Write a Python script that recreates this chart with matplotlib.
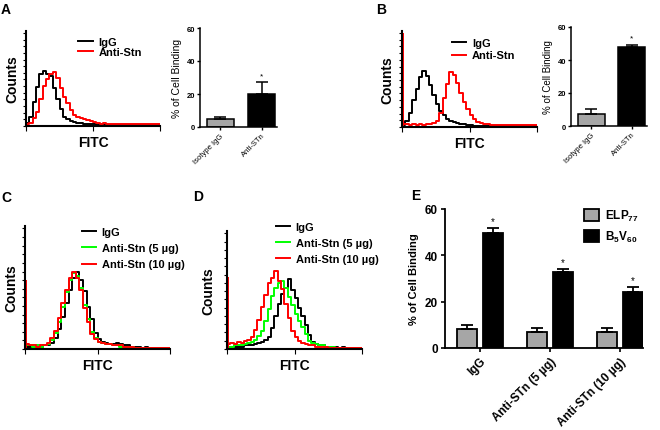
import numpy as np
import matplotlib.pyplot as plt

plt.rcParams['font.family'] = ['Liberation Sans', 'DejaVu Sans']
plt.rcParams['mathtext.fontset'] = 'custom'
plt.rcParams['mathtext.rm'] = 'Liberation Sans:bold'
plt.rcParams['mathtext.bf'] = 'Liberation Sans:bold'

# flow histograms, counts in % of axis height, 40 log-spaced FITC bins (4 decades)
a_igg = [3, 10, 25, 41, 55, 58, 55, 53, 40, 28, 18, 10, 7, 5, 4, 3, 3, 2, 2, 2,
         2, 1, 2, 1, 1, 1, 1, 1, 1, 1, 1, 1, 1, 1, 1, 1, 1, 1, 1, 1]
a_stn = [2, 3, 8, 15, 28, 42, 50, 55, 57, 51, 40, 31, 24, 17, 12, 9, 8, 7, 6, 5,
         4, 3, 2, 3, 2, 2, 2, 2, 2, 2, 2, 2, 2, 2, 2, 2, 2, 2, 2, 2]

b_igg = [2, 6, 15, 28, 40, 52, 58, 53, 44, 33, 24, 17, 12, 8, 6, 5, 4, 3, 3, 2,
         2, 1, 1, 1, 1, 1, 1, 1, 1, 1, 1, 1, 1, 1, 1, 1, 1, 1, 1, 1]
b_stn = [3, 3, 2, 3, 2, 3, 2, 3, 3, 4, 6, 15, 30, 45, 57, 54, 46, 35, 26, 19,
         12, 8, 5, 4, 3, 3, 2, 2, 2, 2, 2, 2, 2, 2, 2, 2, 2, 2, 2, 2]
b_spike = 98

c_igg = [2, 2, 2, 2, 2, 3, 3, 5, 9, 16, 26, 37, 48, 58, 63, 56, 47, 34, 24, 13,
         8, 6, 5, 4, 4, 5, 4, 3, 3, 2, 2, 2, 1, 2, 1, 1, 1, 1, 1, 1]
c_stn5 = [3, 3, 2, 3, 2, 3, 4, 7, 13, 22, 34, 46, 56, 62, 59, 50, 36, 24, 14, 9,
          6, 5, 4, 4, 3, 3, 2, 2, 2, 2, 1, 1, 1, 1, 1, 1, 1, 1, 1, 1]
c_stn10 = [4, 3, 3, 2, 3, 3, 5, 9, 15, 25, 37, 48, 58, 63, 58, 48, 33, 22, 12, 8,
           6, 5, 4, 4, 3, 3, 3, 2, 2, 2, 1, 1, 1, 1, 1, 1, 1, 1, 1, 1]
c_spike = 56

d_igg = [2, 2, 2, 2, 2, 3, 3, 3, 4, 5, 6, 8, 10, 18, 28, 38, 47, 52, 59, 50,
         43, 35, 28, 20, 12, 6, 4, 3, 3, 2, 2, 2, 2, 1, 2, 1, 1, 1, 1, 1]
d_stn5 = [2, 2, 3, 3, 3, 4, 5, 6, 8, 11, 15, 24, 34, 45, 52, 56, 58, 52, 44, 37,
          30, 24, 19, 13, 7, 5, 4, 3, 3, 2, 2, 2, 1, 1, 1, 1, 1, 1, 1, 1]
d_stn10 = [4, 5, 4, 6, 5, 7, 8, 10, 16, 25, 36, 46, 56, 60, 66, 58, 51, 38, 26, 15,
           10, 7, 5, 4, 3, 3, 2, 2, 2, 2, 1, 1, 1, 1, 1, 1, 1, 1, 1, 1]
d_spike = 61

# % of cell binding
bar_labels = ['Isotype IgG', 'Anti-STn']
a_binding = [4.8, 20.2]
a_err = [1.4, 6.8]
b_binding = [7.4, 47.8]
b_err = [2.9, 1.5]

e_groups = ['IgG', 'Anti-STn (5 µg)', 'Anti-STn (10 µg)']
e_elp = [8.2, 7.0, 7.0]
e_elp_err = [1.8, 1.6, 1.6]
e_b5v60 = [49.6, 32.9, 24.3]
e_b5v60_err = [2.0, 1.2, 2.0]

edges = np.logspace(0, 4, 41)
W, H = 660, 431


def px_axes(x0, y_top, x1, y_bot):
    return fig.add_axes([x0 / W, (H - y_bot) / H, (x1 - x0) / W, (y_bot - y_top) / H])


def hist_panel(ax, curves, spike, leg_anchor, leg_space, ypad):
    for vals, color, label in curves:
        ax.step(edges, list(vals) + [vals[-1]], where='post', color=color, lw=1.4, label=label)
    if spike:
        ax.vlines(edges[0] * 1.04, 0, spike, color='red', lw=1.4)
    ax.set_xscale('log')
    ax.set_xlim(edges[0], edges[-1])
    ax.set_ylim(0, 100)
    ax.set_yticks(np.arange(0, 101, 7))
    ax.tick_params(axis='both', which='both', direction='out', length=2.5, width=0.8,
                   labelleft=False, labelbottom=False)
    ax.tick_params(axis='x', which='major', length=3.5)
    for s in ['top', 'right']:
        ax.spines[s].set_visible(False)
    for s in ['left', 'bottom']:
        ax.spines[s].set_linewidth(1.5)
    ax.set_ylabel('Counts', fontsize=10, fontweight='bold', labelpad=ypad)
    ax.set_xlabel('FITC', fontsize=10, fontweight='bold', labelpad=3)
    ax.legend(loc='upper left', bbox_to_anchor=leg_anchor, frameon=False,
              prop={'weight': 'bold', 'size': 8}, handlelength=1.3, handletextpad=0.5,
              labelspacing=leg_space, borderpad=0, borderaxespad=0)


def bar_panel(ax, vals, errs, fsize):
    x = np.arange(len(vals))
    ax.bar(x, vals, 0.66, color=['#a6a6a6', 'black'], edgecolor='black', lw=1.1)
    ax.errorbar(x, vals, yerr=[np.zeros(len(vals)), errs], fmt='none', ecolor='black',
                elinewidth=1.1, capsize=4, capthick=1.1)
    ax.text(x[1], vals[1] + errs[1] + 2, '*', ha='center', va='bottom', fontsize=6)
    ax.set_xlim(-0.49, 1.37)
    ax.set_ylim(0, 60)
    ax.set_yticks([0, 20, 40, 60])
    ax.set_xticks(x)
    ax.set_xticklabels(bar_labels, rotation=45, ha='right', rotation_mode='anchor', fontsize=6.5)
    ax.tick_params(direction='out', length=2.5, width=1, labelsize=5.5, pad=1)
    for lab in ax.get_yticklabels():
        lab.set_fontweight('bold')
    for s in ['top', 'right']:
        ax.spines[s].set_visible(False)
    for s in ['left', 'bottom']:
        ax.spines[s].set_linewidth(1.1)
    ax.set_ylabel('% of Cell Binding', fontsize=fsize, labelpad=3)


fig = plt.figure(figsize=(6.6, 4.31), dpi=100)

ax_a = px_axes(26, 32, 160, 127)
hist_panel(ax_a, [(a_igg, 'black', 'IgG'), (a_stn, 'red', 'Anti-Stn')], 0,
           (0.39, 0.94), 0.05, 2)
ax_a2 = px_axes(200, 29, 277, 128)
bar_panel(ax_a2, a_binding, a_err, 7.5)

ax_b = px_axes(402, 32, 537, 128)
hist_panel(ax_b, [(b_igg, 'black', 'IgG'), (b_stn, 'red', 'Anti-Stn')], b_spike,
           (0.37, 0.93), 0.25, 3)
ax_b2 = px_axes(571, 28, 647, 127)
bar_panel(ax_b2, b_binding, b_err, 7)

ax_c = px_axes(25, 227, 170, 350)
hist_panel(ax_c, [(c_igg, 'black', 'IgG'), (c_stn5, '#00ff00', 'Anti-Stn (5 µg)'),
                  (c_stn10, 'red', 'Anti-Stn (10 µg)')], c_spike, (0.39, 0.99), 0.55, 2)

ax_d = px_axes(227, 232, 362, 350)
hist_panel(ax_d, [(d_igg, 'black', 'IgG'), (d_stn5, '#00ff00', 'Anti-Stn (5 µg)'),
                  (d_stn10, 'red', 'Anti-Stn (10 µg)')], d_spike, (0.36, 1.08), 0.55, 6)

# panel E
ax_e = px_axes(445, 210, 643, 349)
xg = np.arange(len(e_groups))
off = 0.186
bw = 0.286
g1 = ax_e.bar(xg - off, e_elp, bw, color='#a6a6a6', edgecolor='black', lw=1.3)
g2 = ax_e.bar(xg + off, e_b5v60, bw, color='black', edgecolor='black', lw=1.3)
ax_e.errorbar(xg - off, e_elp, yerr=[np.zeros(3), e_elp_err], fmt='none', ecolor='black',
              elinewidth=1.3, capsize=4, capthick=1.3)
ax_e.errorbar(xg + off, e_b5v60, yerr=[np.zeros(3), e_b5v60_err], fmt='none', ecolor='black',
              elinewidth=1.3, capsize=4, capthick=1.3)
for xi, v, er in zip(xg + off, e_b5v60, e_b5v60_err):
    ax_e.text(xi, v + er + 1, '*', ha='center', va='bottom', fontsize=7)
ax_e.set_xlim(-0.5, 2.33)
ax_e.set_ylim(0, 60)
ax_e.set_yticks([0, 20, 40, 60])
ax_e.set_xticks(xg)
ax_e.set_xticklabels(e_groups, rotation=45, ha='right', rotation_mode='anchor',
                     fontsize=7.5, fontweight='bold')
ax_e.tick_params(direction='out', length=3, width=1.2, labelsize=8.5, pad=2)
for lab in ax_e.get_yticklabels():
    lab.set_fontweight('bold')
for s in ['top', 'right']:
    ax_e.spines[s].set_visible(False)
for s in ['left', 'bottom']:
    ax_e.spines[s].set_linewidth(1.3)
ax_e.set_ylabel('% of Cell Binding', fontsize=8, fontweight='bold', labelpad=4)
ax_e.legend([g1, g2], [r'ELP$_{77}$', r'B$_5$V$_{60}$'], loc='upper left',
            bbox_to_anchor=(0.70, 1.01), frameon=False, prop={'weight': 'bold', 'size': 8.5},
            handlelength=1.3, handleheight=1.2, handletextpad=0.5, labelspacing=0.5,
            borderpad=0, borderaxespad=0)

for lab, x, y in [('A', 1, 3), ('B', 376, 3), ('C', 1, 191), ('D', 193, 190), ('E', 411, 189)]:
    fig.text(x / W, 1 - y / H, lab, fontsize=10, fontweight='bold', va='top', ha='left')

fig.savefig('out.png', dpi=100)
